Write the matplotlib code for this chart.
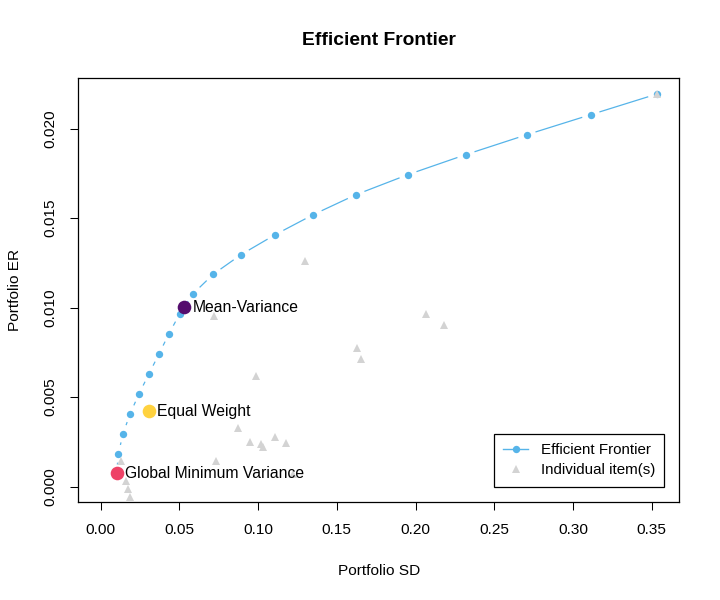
import numpy as np
import matplotlib
matplotlib.use("Agg")
import matplotlib.pyplot as plt
from matplotlib.lines import Line2D

plt.rcParams['font.family'] = ['Liberation Sans', 'DejaVu Sans']

# ---- data ----
frontier_sd = [0.0102, 0.0113, 0.0143, 0.0188, 0.0245, 0.0308, 0.0372, 0.0435,
               0.0503, 0.0588, 0.0715, 0.0892, 0.1110, 0.1352, 0.1622, 0.1952,
               0.2320, 0.2707, 0.3113, 0.3532]
frontier_er = [0.00073, 0.00184, 0.00296, 0.00408, 0.00520, 0.00631, 0.00743,
               0.00855, 0.00966, 0.01078, 0.01186, 0.01296, 0.01408, 0.01520,
               0.01631, 0.01743, 0.01855, 0.01966, 0.02078, 0.02193]

asset_sd = [0.3532, 0.1300, 0.0721, 0.2069, 0.2180, 0.1626, 0.1652, 0.0987,
            0.0873, 0.0949, 0.1020, 0.1034, 0.1106, 0.1179, 0.0733, 0.1222,
            0.0129, 0.0161, 0.0175, 0.0190]
asset_er = [0.02193, 0.01259, 0.00955, 0.00966, 0.00905, 0.00777, 0.00715,
            0.00616, 0.00326, 0.00250, 0.00236, 0.00224, 0.00275, 0.00243,
            0.00144, 0.00073, 0.00143, 0.00030, -0.00011, -0.00058]

special_names = ["Global Minimum Variance", "Equal Weight", "Mean-Variance"]
special_sd = [0.0102, 0.0305, 0.0527]
special_er = [0.00076, 0.00421, 0.01003]
special_colors = ["#EE4266", "#FFD23F", "#540D6E"]

legend_labels = ["Efficient Frontier", "Individual item(s)"]

blue = "#56B4E9"
grey = "#D3D3D3"

fig = plt.figure(figsize=(7.2, 6.0), dpi=100)
ax = fig.add_axes([0.1088, 0.1628, 0.8343, 0.7067])
ax.set_xlim(-0.0141, 0.3673)
ax.set_ylim(-0.000877, 0.02281)

# frontier line drawn R "type b" style (gaps around points)
pts = ax.transData.transform(np.column_stack([frontier_sd, frontier_er]))
inv = ax.transData.inverted()
gap = 9.0
for p, q in zip(pts[:-1], pts[1:]):
    d = q - p
    L = np.hypot(d[0], d[1])
    if L > 2 * gap:
        u = d / L
        a = inv.transform(p + u * gap)
        b = inv.transform(q - u * gap)
        ax.plot([a[0], b[0]], [a[1], b[1]], color=blue, lw=0.9,
                solid_capstyle='butt', zorder=2)
ax.plot(frontier_sd, frontier_er, 'o', color=blue, ms=5.3, mew=0, zorder=3)

# individual assets
ax.plot(asset_sd, asset_er, '^', color=grey, ms=6.2, mew=0, linestyle='none',
        zorder=4)

# special portfolios
for name, x, y, c in zip(special_names, special_sd, special_er, special_colors):
    ax.plot([x], [y], 'o', color=c, ms=9.8, mew=0, zorder=5)
    ax.annotate(name, (x, y), xytext=(6.3, 0), textcoords='offset points',
                ha='left', va='center', fontsize=11.3, color='black', zorder=6)

# axes styling
ax.set_xticks(np.arange(0, 0.351, 0.05))
ax.set_xticklabels([f"{v:.2f}" for v in np.arange(0, 0.351, 0.05)])
ax.set_yticks(np.arange(0, 0.0201, 0.005))
ax.set_yticklabels([f"{v:.3f}" for v in np.arange(0, 0.0201, 0.005)])
ax.tick_params(axis='both', direction='out', length=5.5, width=0.75,
               labelsize=11.1, pad=9.5, colors='black')
ax.tick_params(axis='y', labelrotation=90)
for lab in ax.get_yticklabels():
    lab.set_va('center')
for s in ax.spines.values():
    s.set_linewidth(0.9)
    s.set_color('black')

ax.set_xlabel("Portfolio SD", fontsize=11.1)
ax.set_ylabel("Portfolio ER", fontsize=11.1)
ax.xaxis.set_label_coords(0.5, -0.162)
ax.yaxis.set_label_coords(-0.1055, 0.5)
ax.xaxis.label.set_va('center')
ax.yaxis.label.set_va('center')

ax.text(0.5, 1.0903, "Efficient Frontier", transform=ax.transAxes,
        ha='center', va='center', fontsize=13.9, fontweight='bold')

h1 = Line2D([], [], color=blue, lw=1.0, marker='o', ms=5.3, mew=0)
h2 = Line2D([], [], color=grey, lw=0, linestyle='none', marker='^', ms=6.0, mew=0)
leg = ax.legend([h1, h2], legend_labels, loc='lower right',
                bbox_to_anchor=(0.9755, 0.0368), borderaxespad=0,
                frameon=True, fancybox=False, edgecolor='black', framealpha=1,
                handlelength=1.6, handletextpad=0.85, labelspacing=0.42,
                borderpad=0.62, fontsize=10.9, numpoints=1)
leg.get_frame().set_linewidth(0.9)
leg.set_zorder(10)

fig.savefig("out.png", dpi=100)
